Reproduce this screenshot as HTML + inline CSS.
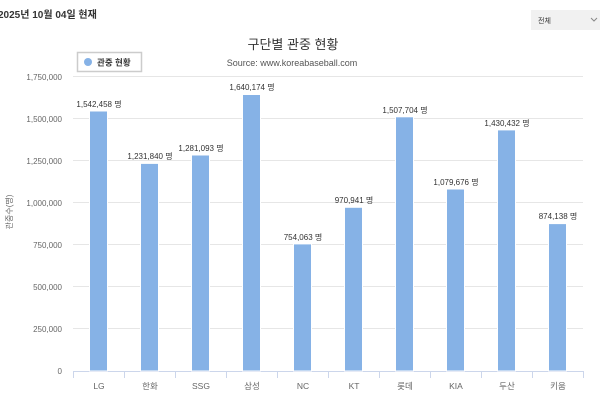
<!DOCTYPE html>
<html><head><meta charset="utf-8"><style>
body{margin:0;width:600px;height:411px;background:#fff;overflow:hidden;font-family:"Liberation Sans","Noto Sans CJK KR",sans-serif}
</style></head><body>
<svg width="600" height="411" xmlns="http://www.w3.org/2000/svg" font-family="Liberation Sans, Noto Sans CJK KR, sans-serif">
<text x="-2" y="18" font-size="10" font-weight="bold" fill="#333">2025년 10월 04일 현재</text>
<rect x="531" y="10" width="69" height="20" fill="#f1f1f1"/>
<text x="538" y="23" font-size="7" fill="#333">전체</text>
<path d="M591 18 l3 3 l3 -3" stroke="#888" fill="none"/>
<text x="293" y="49" font-size="13" text-anchor="middle" fill="#333">구단별 관중 현황</text>
<text x="292" y="66" font-size="9" text-anchor="middle" fill="#555">Source: www.koreabaseball.com</text>
<rect x="77.5" y="52.5" width="64" height="19" fill="#fff" stroke="#ccc" stroke-width="1.5"/>
<circle cx="88" cy="62" r="4" fill="#86b2e6"/>
<text x="97" y="65.5" font-size="8.5" font-weight="bold" fill="#333">관중 현황</text>
<text transform="translate(12,212) rotate(-90)" font-size="8" text-anchor="middle" fill="#666">관중수(명)</text>
<g stroke="#e6e6e6" stroke-width="1">
<line x1="73" x2="583" y1="76.5" y2="76.5"/><line x1="73" x2="583" y1="118.5" y2="118.5"/>
<line x1="73" x2="583" y1="160.5" y2="160.5"/><line x1="73" x2="583" y1="202.5" y2="202.5"/>
<line x1="73" x2="583" y1="244.5" y2="244.5"/><line x1="73" x2="583" y1="286.5" y2="286.5"/>
<line x1="73" x2="583" y1="328.5" y2="328.5"/>
</g>
<g font-size="8" fill="#666" text-anchor="end">
<text x="62" y="80">1,750,000</text><text x="62" y="122">1,500,000</text><text x="62" y="164">1,250,000</text>
<text x="62" y="206">1,000,000</text><text x="62" y="248">750,000</text><text x="62" y="290">500,000</text>
<text x="62" y="332">250,000</text><text x="62" y="374">0</text>
</g>
<line x1="73" x2="584" y1="371.5" y2="371.5" stroke="#ccd6eb"/>
<g stroke="#ccd6eb"><line x1="73.5" x2="73.5" y1="371" y2="378"/><line x1="124.5" x2="124.5" y1="371" y2="378"/><line x1="175.5" x2="175.5" y1="371" y2="378"/><line x1="226.5" x2="226.5" y1="371" y2="378"/><line x1="277.5" x2="277.5" y1="371" y2="378"/><line x1="328.5" x2="328.5" y1="371" y2="378"/><line x1="379.5" x2="379.5" y1="371" y2="378"/><line x1="430.5" x2="430.5" y1="371" y2="378"/><line x1="481.5" x2="481.5" y1="371" y2="378"/><line x1="532.5" x2="532.5" y1="371" y2="378"/><line x1="583.5" x2="583.5" y1="371" y2="378"/></g>
<g fill="#86b2e6" stroke="#fff" stroke-width="1">
<rect x="89.5" y="111" width="18" height="260"/>
<rect x="140.5" y="163.4" width="18" height="207.6"/>
<rect x="191.5" y="155" width="18" height="216"/>
<rect x="242.5" y="94.5" width="18" height="276.5"/>
<rect x="293.5" y="243.9" width="18" height="127.1"/>
<rect x="344.5" y="207.3" width="18" height="163.7"/>
<rect x="395.5" y="116.8" width="18" height="254.2"/>
<rect x="446.5" y="189" width="18" height="182"/>
<rect x="497.5" y="129.9" width="18" height="241.1"/>
<rect x="548.5" y="223.6" width="18" height="147.4"/>
</g>
<g font-size="8" fill="#333" text-anchor="middle">
<text x="99" y="107">1,542,458 명</text><text x="150" y="159">1,231,840 명</text>
<text x="201" y="151">1,281,093 명</text><text x="252" y="90">1,640,174 명</text>
<text x="303" y="240">754,063 명</text><text x="354" y="203">970,941 명</text>
<text x="405" y="113">1,507,704 명</text><text x="456" y="185">1,079,676 명</text>
<text x="507" y="126">1,430,432 명</text><text x="558" y="219">874,138 명</text>
</g>
<g font-size="8.5" fill="#666" text-anchor="middle">
<text x="99" y="389">LG</text><text x="150" y="389">한화</text><text x="201" y="389">SSG</text>
<text x="252" y="389">삼성</text><text x="303" y="389">NC</text><text x="354" y="389">KT</text>
<text x="405" y="389">롯데</text><text x="456" y="389">KIA</text><text x="507" y="389">두산</text>
<text x="558" y="389">키움</text>
</g>
</svg>
</body></html>
